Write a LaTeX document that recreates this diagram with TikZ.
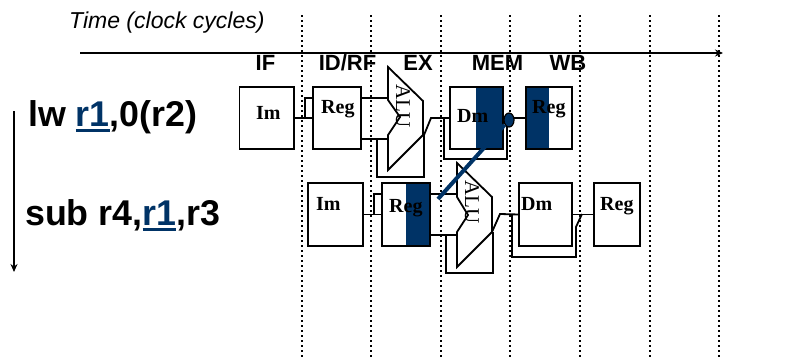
\documentclass[tikz,border=0pt]{standalone}
\usepackage{fontspec}
\setmainfont{Liberation Serif}
\setsansfont{Liberation Sans}
\usetikzlibrary{arrows.meta,shapes.geometric}
\definecolor{navy}{HTML}{003366}
\newcommand{\fpx}[1]{\fontsize{#1pt}{#1pt}\selectfont}
\newcommand{\regname}[1]{\setbox0\hbox{#1}\rlap{\color{navy}\rule[-6pt]{\wd0}{3pt}}{\color{navy}\box0}}
\tikzset{
  x=1pt,y=-1pt,
  stagebox/.style={draw=black,line width=1.9pt,fill=white,inner sep=0pt,outer sep=0pt,anchor=north west},
  wire/.style={draw=black,line width=1.8pt},
  alu/.style={draw=black,line width=1.8pt,line join=miter},
  cycle line/.style={draw=black,line width=2pt,dash pattern=on 2pt off 3pt},
  stage/.style={font=\sffamily\bfseries\fpx{22},anchor=base,inner sep=0pt},
  instr/.style={font=\sffamily\bfseries\fpx{35.8},anchor=base west,inner sep=0pt},
  unit/.style={font=\bfseries\fpx{20},anchor=base west,inner sep=0pt},
  alutext/.style={font=\fpx{21},rotate=-90,inner sep=0pt,anchor=center},
  shade bar/.style={fill=navy,draw=none},
  forward/.style={draw=navy,line width=4pt},
  axis/.style={draw=black,line width=1.6pt,-{Stealth[length=8pt,width=7pt]}}
}
\begin{document}
\begin{tikzpicture}
\useasboundingbox[fill=white] (0,0) rectangle (785,359);
% cycle boundaries
\foreach \n/\x in {a/301.5,b/371,c/440.5,d/510,e/580,f/649.5,g/719}{
  \coordinate (top\n) at (\x,15);
  \coordinate (bot\n) at (\x,359);
  \draw[cycle line] (top\n) -- (bot\n);
}
% axes
\coordinate (tstart) at (80,53);
\coordinate (tend) at (723,53);
\draw[axis] (tstart) -- (tend);
\coordinate (istart) at (14,111);
\coordinate (iend) at (14,272);
\draw[axis] (istart) -- (iend);
\node[font=\sffamily\itshape\fpx{23},anchor=base west,inner sep=0pt] (timelabel) at (69,28) {Time (clock cycles)};
% stage labels
\node[stage] (sif) at (265.5,70) {IF};
\node[stage] (sid) at (347.5,70) {ID/RF};
\node[stage] (sex) at (418,70) {EX};
\node[stage] (smem) at (497.5,70) {MEM};
\node[stage] (swb) at (568,70) {WB};
% instructions
\node[instr] (lw) at (28,126) {lw \regname{r1},0(r2)};
\node[instr] (sub) at (25,225) {sub r4,\regname{r1},r3};
% row 1 boxes
\node[stagebox,minimum width=54.5pt,minimum height=62pt] (im1) at (239.5,87) {};
\node[stagebox,minimum width=48pt,minimum height=62pt] (reg1) at (313,87) {};
\node[stagebox,minimum width=53pt,minimum height=62pt] (dm1) at (450,87) {};
\node[stagebox,minimum width=46pt,minimum height=62pt] (wb1) at (526,87) {};
\fill[shade bar] (476,87) rectangle (503,149);
\fill[shade bar] (526,87) rectangle (549,149);
\draw[line width=1.9pt] (dm1.north west) rectangle (dm1.south east);
\draw[line width=1.9pt] (wb1.north west) rectangle (wb1.south east);
% row 2 boxes
\node[stagebox,minimum width=55pt,minimum height=63pt] (im2) at (308,183) {};
\node[stagebox,minimum width=48pt,minimum height=63pt] (reg2) at (382,183) {};
\node[stagebox,minimum width=53pt,minimum height=63pt] (dm2) at (519,183) {};
\node[stagebox,minimum width=46pt,minimum height=63pt] (wb2) at (594,183) {};
\fill[shade bar] (406,183) rectangle (430,246);
\draw[line width=1.9pt] (reg2.north west) rectangle (reg2.south east);
% row 1 wiring
\draw[wire] (im1.east) -- (reg1.west);
\coordinate (j1) at (305,118);
\draw[wire] (j1) -- (305,98) -- (313,98);
\coordinate (alu1) at (388,67);
\draw[alu] (alu1) -- (423,101) -- (423,135) -- (388,170) -- (388,135) -- (400,117) -- (388,100) -- cycle;
\draw[wire] (361,98) -- (388,98);
\draw[wire] (361,139) -- (388,139);
\draw[wire] (377,139) -- (377,177) -- (424,177) -- (424,135);
\draw[wire] (424,135) -- (431,118) -- (dm1.west);
\draw[wire] (444,118) -- (444,159) -- (507,159) -- (507,118);
\draw[wire] (dm1.east) -- (wb1.west);
% row 2 wiring
\draw[wire] (im2.east) -- (reg2.west);
\draw[wire] (374,215) -- (374,194) -- (382,194);
\coordinate (alu2) at (457,163);
\draw[alu] (alu2) -- (492,197) -- (492,232) -- (457,267) -- (457,232) -- (468,215) -- (457,197) -- cycle;
\draw[wire] (430,194) -- (457,194);
\draw[wire] (430,235) -- (457,235);
\draw[wire] (446,235) -- (446,273) -- (493,273) -- (493,232);
\draw[wire] (492,232) -- (500,214) -- (dm2.west);
\draw[wire] (512,214) -- (512,257) -- (576,257) -- (576,227) -- (582,214);
\draw[wire] (dm2.east) -- (wb2.west);
% unit labels
\node[unit] (tim1) at (256,119) {Im};
\node[unit] (treg1) at (321,113) {Reg};
\node[alutext] (talu1) at (403,106) {ALU};
\node[unit] (tdm1) at (457,122) {Dm};
\node[unit] (twb1) at (532,113) {Reg};
\node[unit] (tim2) at (316,210) {Im};
\node[unit] (treg2) at (389,212) {Reg};
\node[alutext] (talu2) at (472,202) {ALU};
\node[unit] (tdm2) at (521,210) {Dm};
\node[unit] (twb2) at (600,210) {Reg};
% forwarding
\node[draw=black,fill=navy,line width=1.2pt,ellipse,minimum width=10pt,minimum height=14pt,inner sep=0pt] (fwd) at (509,120) {};
\coordinate (fwdend) at (438,199);
\draw[forward] (fwd) -- (fwdend);
\end{tikzpicture}
\end{document}
